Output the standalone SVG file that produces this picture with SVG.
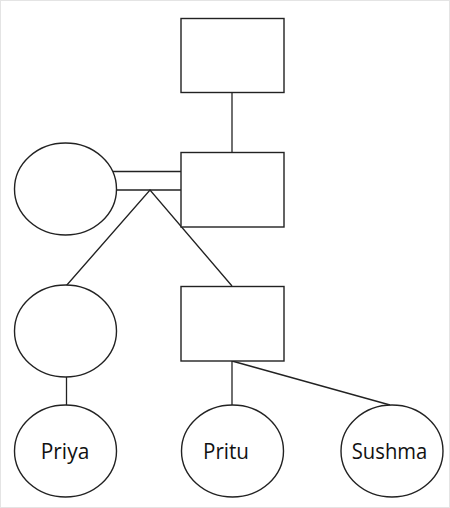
<svg xmlns="http://www.w3.org/2000/svg" width="450" height="508" viewBox="0 0 450 508">
<style>
.s{fill:#fff;stroke:#222;stroke-width:1.4}
.c{fill:none;stroke:#222;stroke-width:1.3}
text{font-family:"Open Sans","Noto Sans",sans-serif;font-size:22px;fill:#111;text-anchor:middle}
</style>
<rect x="0.5" y="0.5" width="449" height="507" fill="#fff" stroke="#e4e4e4"/>
<g id="connectors">
<line class="c" x1="232" y1="93" x2="232" y2="152"/>
<line class="c" x1="113" y1="171.5" x2="181" y2="171.5"/>
<line class="c" x1="116.5" y1="190" x2="181" y2="190"/>
<polyline class="c" points="66,286 150,190 232,286"/>
<line class="c" x1="66.5" y1="377" x2="66.5" y2="405"/>
<line class="c" x1="232" y1="361" x2="232" y2="405"/>
<line class="c" x1="232" y1="361" x2="390" y2="405"/>
</g>
<g id="top"><rect class="s" x="181" y="18.5" width="103" height="74"/></g>
<g id="spouse"><ellipse class="s" cx="65.5" cy="189" rx="51" ry="46"/></g>
<g id="father"><rect class="s" x="181" y="152.5" width="103" height="74.5"/></g>
<g id="daughter"><ellipse class="s" cx="65.5" cy="331" rx="51" ry="46"/></g>
<g id="son"><rect class="s" x="181" y="286.5" width="103" height="74.5"/></g>
<g id="priya"><ellipse class="s" cx="65.5" cy="451" rx="51" ry="46"/><text x="65" y="459" textLength="48.5" lengthAdjust="spacingAndGlyphs">Priya</text></g>
<g id="pritu"><ellipse class="s" cx="232.5" cy="451" rx="51" ry="46"/><text x="226" y="459" textLength="46" lengthAdjust="spacingAndGlyphs">Pritu</text></g>
<g id="sushma"><ellipse class="s" cx="392" cy="451" rx="51" ry="46"/><text x="389.5" y="459" textLength="75.5" lengthAdjust="spacingAndGlyphs">Sushma</text></g>
</svg>
